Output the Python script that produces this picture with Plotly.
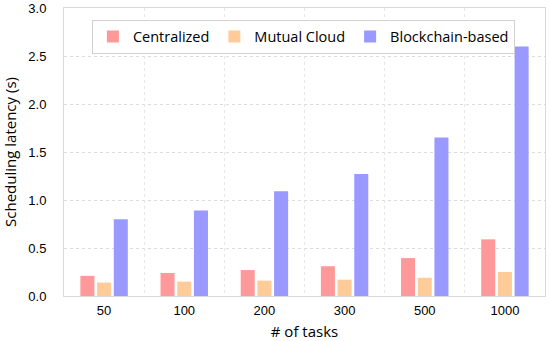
import plotly.graph_objects as go

categories = ["50", "100", "200", "300", "500", "1000"]
centralized = [0.21, 0.24, 0.27, 0.31, 0.395, 0.59]
mutual_cloud = [0.14, 0.15, 0.16, 0.17, 0.19, 0.25]
blockchain = [0.80, 0.89, 1.09, 1.27, 1.65, 2.60]
y_ticks = [0, 0.5, 1.0, 1.5, 2.0, 2.5, 3.0]

xpos = list(range(len(categories)))

fig = go.Figure()
for name, vals, col in [("Centralized", centralized, "#FF9999"),
                        ("Mutual Cloud", mutual_cloud, "#FFCC99"),
                        ("Blockchain-based", blockchain, "#9999FF")]:
    fig.add_trace(go.Bar(x=xpos, y=vals, name=name, marker_color=col,
                         marker_line_width=0))

fig.update_layout(
    width=550, height=341,
    margin=dict(l=64, r=5, t=8, b=45),
    paper_bgcolor="white", plot_bgcolor="white",
    barmode="group", bargap=0.375, bargroupgap=0.16,
    font=dict(family="Liberation Sans, Arial", color="#000"),
    legend=dict(orientation="h", x=0.058, y=0.96, xanchor="left", yanchor="top",
                bgcolor="white", bordercolor="#D0D0D0", borderwidth=1,
                font=dict(family="Open Sans", size=14.5),
                tracegroupgap=0),
    showlegend=True,
)
fig.update_xaxes(
    automargin=False,
    range=[-0.5, len(categories) - 0.5], tickmode="array", tickvals=xpos,
    ticktext=categories, showgrid=False, ticks="",
    tickfont=dict(size=13), ticklabelstandoff=2,
    title=dict(text="# of tasks", font=dict(family="Open Sans", size=15)),
    showline=True, linecolor="#D9D9D9", linewidth=1, mirror=True,
    minor=dict(tick0=-0.5, dtick=1, showgrid=True, gridcolor="#E6E6E6",
               griddash="dot", gridwidth=1),
    zeroline=False,
)
fig.update_yaxes(
    automargin=False,
    range=[0, 3.0], tickmode="array", tickvals=y_ticks,
    ticktext=[f"{v:.1f}" for v in y_ticks],
    showgrid=True, gridcolor="#DCDCDC", griddash="dot", gridwidth=1,
    tickfont=dict(size=13), ticklabelstandoff=14,
    title=dict(text="Scheduling latency (s)", font=dict(family="Open Sans", size=15)),
    showline=True, linecolor="#D9D9D9", linewidth=1, mirror=True,
    zeroline=False, ticks="",
)
fig.write_html("out.html", config={"displayModeBar": False},
               post_script="document.body.style.margin='0';document.body.style.overflow='hidden';")
